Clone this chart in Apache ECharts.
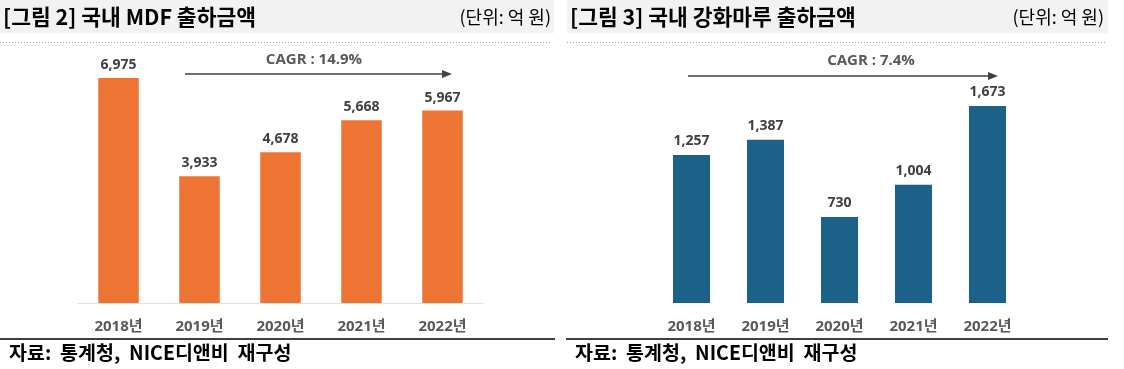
<!DOCTYPE html>
<html><head><meta charset="utf-8">
<script src="https://cdn.jsdelivr.net/npm/echarts@6/dist/echarts.min.js"></script>
<style>html,body{margin:0;padding:0;background:#fff;}#c{width:1124px;height:369px;}</style>
</head><body><div id="c"></div>
<script>
const categories = ['2018년','2019년','2020년','2021년','2022년'];
const mdfValues = [6975, 3933, 4678, 5668, 5967];
const floorValues = [1257, 1387, 730, 1004, 1673];
const titleLeft = '[그림 2] 국내 MDF 출하금액';
const titleRight = '[그림 3] 국내 강화마루 출하금액';
const unitText = '(단위: 억 원)';
const sourceText = '자료:  통계청,  NICE디앤비  재구성';
const cagrLeft = 'CAGR : 14.9%';
const cagrRight = 'CAGR : 7.4%';

const KR = '"Noto Sans CJK KR", "Noto Sans", sans-serif';
const NUM = '"Open Sans", "Noto Sans CJK KR", sans-serif';
const chart = echarts.init(document.getElementById('c'), null, {renderer:'canvas'});

function arrow(x1, x2, y) {
  return [
    {type:'line', shape:{x1:x1, y1:y, x2:x2-8, y2:y}, style:{stroke:'#404040', lineWidth:1.5}},
    {type:'polygon', shape:{points:[[x2,y],[x2-10,y-4],[x2-10,y+4]]}, style:{fill:'#404040'}}
  ];
}
function textEl(x, y, t, font, color, align) {
  return {type:'text', x:x, y:y, style:{text:t, font:font, fill:color, textAlign:align||'left', textVerticalAlign:'middle'}};
}

const graphics = [
  {type:'rect', shape:{x:0, y:0, width:554, height:33}, style:{fill:'#f2f2f2'}, z:-1},
  {type:'rect', shape:{x:567, y:0, width:541, height:33}, style:{fill:'#f2f2f2'}, z:-1},
  {type:'line', shape:{x1:0, y1:42.5, x2:552, y2:42.5}, style:{stroke:'#a0a0a0', lineWidth:1, lineDash:[1,2]}},
  {type:'line', shape:{x1:567, y1:42.5, x2:1106, y2:42.5}, style:{stroke:'#a0a0a0', lineWidth:1, lineDash:[1,2]}},
  textEl(3, 17, titleLeft, 'bold 21.5px ' + KR, '#000'),
  textEl(570, 17, titleRight, 'bold 21.5px ' + KR, '#000'),
  textEl(551, 17, unitText, '18px ' + KR, '#000', 'right'),
  textEl(1104, 17, unitText, '18px ' + KR, '#000', 'right'),
  {type:'line', shape:{x1:0, y1:339, x2:555, y2:339}, style:{stroke:'#000', lineWidth:1.5}},
  {type:'line', shape:{x1:566, y1:339, x2:1108, y2:339}, style:{stroke:'#000', lineWidth:1.5}},
  textEl(9, 353, sourceText, 'bold 19.5px ' + KR, '#000'),
  textEl(575, 353, sourceText, 'bold 19.5px ' + KR, '#000'),
  textEl(314, 60, cagrLeft, 'bold 15px ' + NUM, '#595959', 'center'),
  textEl(871, 61, cagrRight, 'bold 15px ' + NUM, '#595959', 'center')
].concat(arrow(185, 452, 74)).concat(arrow(688, 998, 76));

chart.setOption({
  animation:false,
  grid:[
    {left:78, width:405, top:45, height:258},
    {left:654.5, width:370, top:67.5, height:235.5}
  ],
  xAxis:[
    {type:'category', gridIndex:0, data:categories, axisTick:{show:false},
     axisLine:{show:true, lineStyle:{color:'#e0e0e0'}},
     axisLabel:{margin:16, fontSize:15, fontWeight:'bold', color:'#595959', fontFamily:NUM}},
    {type:'category', gridIndex:1, data:categories, axisTick:{show:false},
     axisLine:{show:false},
     axisLabel:{margin:16, fontSize:15, fontWeight:'bold', color:'#595959', fontFamily:NUM}}
  ],
  yAxis:[
    {type:'value', gridIndex:0, min:0, max:8000, show:false, splitLine:{show:false}},
    {type:'value', gridIndex:1, min:0, max:2000, show:false, splitLine:{show:false}}
  ],
  series:[
    {type:'bar', xAxisIndex:0, yAxisIndex:0, data:mdfValues, barWidth:'50%',
     itemStyle:{color:'#ED7433'},
     label:{show:true, position:'top', distance:6, fontSize:14, fontWeight:'bold', color:'#404040', fontFamily:NUM,
       formatter:p=>p.value.toLocaleString('en-US')}},
    {type:'bar', xAxisIndex:1, yAxisIndex:1, data:floorValues, barWidth:'50%',
     itemStyle:{color:'#1B6188'},
     label:{show:true, position:'top', distance:7, fontSize:14, fontWeight:'bold', color:'#404040', fontFamily:NUM,
       formatter:p=>p.value.toLocaleString('en-US')}}
  ],
  graphic:graphics
});
</script></body></html>
